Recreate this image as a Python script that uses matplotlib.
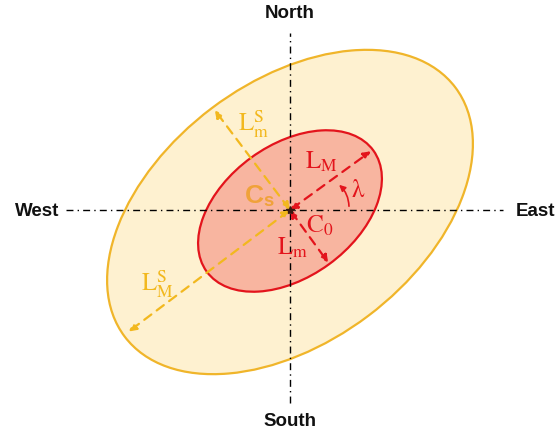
import numpy as np
import matplotlib.pyplot as plt
from matplotlib.patches import Ellipse, FancyArrowPatch

plt.rcParams['mathtext.fontset'] = 'stix'

# ellipse parameters (pixels, centre of compass = origin)
outer_width, outer_height, outer_angle = 414, 260, 37
inner_width, inner_height, inner_angle = 206, 132, 36

# arrow lengths along the axes
outer_major_len, outer_minor_len = 202, 125
inner_major_len, inner_minor_len = 100, 65

compass = ['North', 'South', 'West', 'East']

c_outer_fill = '#FEF1D0'
c_outer_edge = '#F0B52A'
c_inner_fill = '#F8B5A0'
c_inner_edge = '#E3141C'
c_gold = '#F2B81E'
c_orange = '#F0A23A'

fig = plt.figure(figsize=(5.56, 4.33), dpi=100)
ax = fig.add_axes([0, 0, 1, 1])
ax.set_xlim(-290, 266)
ax.set_ylim(-223, 210)
ax.set_aspect('equal')
ax.axis('off')

ax.add_patch(Ellipse((0, -2), outer_width, outer_height, angle=outer_angle,
                     facecolor=c_outer_fill, edgecolor=c_outer_edge, lw=1.6, zorder=1))
ax.add_patch(Ellipse((0, -1), inner_width, inner_height, angle=inner_angle,
                     facecolor=c_inner_fill, edgecolor=c_inner_edge, lw=1.6, zorder=2))

# compass lines
ax.plot([-224, 213], [0, 0], color='black', lw=1, ls=(0, (5, 3, 1, 3)), zorder=3)
ax.plot([0, 0], [-193, 177], color='black', lw=1, ls=(0, (5, 3, 1, 3)), zorder=3)

text_kw = dict(fontsize=13.5, fontweight='bold', family='Liberation Sans',
               va='center', color='#111111')
ax.text(0, 196, compass[0], ha='center', **text_kw)
ax.text(0, -211, compass[1], ha='center', **text_kw)
ax.text(-253, -1, compass[2], ha='center', **text_kw)
ax.text(226, -1, compass[3], ha='left', **text_kw)


def dashed_arrow(length, angle, color, z):
    a = np.deg2rad(angle)
    tip = (length * np.cos(a), length * np.sin(a))
    arr = FancyArrowPatch((0, 0), tip, arrowstyle='<|-|>', mutation_scale=11,
                          color=color, lw=1.6, linestyle=(0, (4, 3)),
                          shrinkA=0, shrinkB=0, zorder=z)
    ax.add_patch(arr)


dashed_arrow(outer_major_len, outer_angle + 180, c_gold, 4)
dashed_arrow(outer_minor_len, outer_angle + 90, c_gold, 4)
dashed_arrow(inner_major_len, inner_angle, c_inner_edge, 5)
dashed_arrow(inner_minor_len, inner_angle - 90, c_inner_edge, 5)

# small dark mark where the arrows meet
ax.plot(0, 0, marker='*', color='#3a1a10', ms=6, zorder=6)

# lambda arc
ax.add_patch(FancyArrowPatch((59, 1), (47, 27), connectionstyle='arc3,rad=0.25',
                             arrowstyle='-|>', mutation_scale=9, color=c_inner_edge,
                             lw=1.2, zorder=5))

math_kw = dict(fontsize=18, ha='center', va='center', zorder=6)
ax.text(-36, 86, r'$\mathrm{L}_{\mathrm{m}}^{\mathrm{S}}$', color=c_gold, **math_kw)
ax.text(-133, -74, r'$\mathrm{L}_{\mathrm{M}}^{\mathrm{S}}$', color=c_gold, **math_kw)
ax.text(31, 48, r'$\mathrm{L}_{\mathrm{M}}$', color=c_inner_edge, **math_kw)
ax.text(3, -38, r'$\mathrm{L}_{\mathrm{m}}$', color=c_inner_edge, **math_kw)
ax.text(68, 19, 'λ', color=c_inner_edge, family='STIXGeneral', **math_kw)
ax.text(30, -16, r'$\mathrm{C}_0$', color=c_inner_edge, **math_kw)
ax.text(-31, 14, r'C$_\mathregular{s}$', color=c_orange, fontsize=19, fontweight='bold',
        family='Liberation Sans', ha='center', va='center', zorder=6)

fig.savefig('out.png', dpi=100)
